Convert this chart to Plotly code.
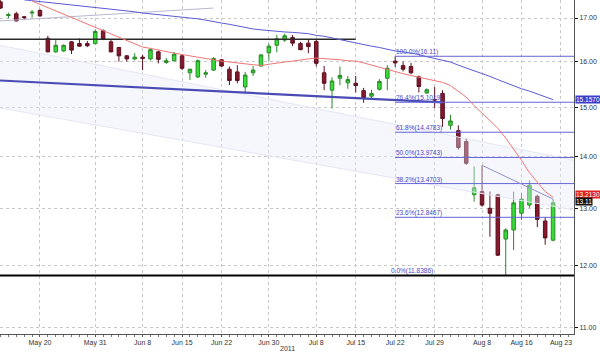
import math
import plotly.graph_objects as go

# ---------------- data ----------------
dates = ["2011-05-13", "2011-05-16", "2011-05-17", "2011-05-18", "2011-05-19", "2011-05-20",
         "2011-05-23", "2011-05-24", "2011-05-25", "2011-05-26", "2011-05-27", "2011-05-30",
         "2011-05-31", "2011-06-01", "2011-06-02", "2011-06-03", "2011-06-06", "2011-06-07",
         "2011-06-08", "2011-06-09", "2011-06-10", "2011-06-13", "2011-06-14", "2011-06-15",
         "2011-06-16", "2011-06-17", "2011-06-20", "2011-06-21", "2011-06-22", "2011-06-23",
         "2011-06-24", "2011-06-27", "2011-06-28", "2011-06-29", "2011-06-30", "2011-07-01",
         "2011-07-04", "2011-07-05", "2011-07-06", "2011-07-07", "2011-07-08", "2011-07-11",
         "2011-07-12", "2011-07-13", "2011-07-14", "2011-07-15", "2011-07-18", "2011-07-19",
         "2011-07-20", "2011-07-21", "2011-07-22", "2011-07-25", "2011-07-26", "2011-07-27",
         "2011-07-28", "2011-07-29", "2011-08-01", "2011-08-02", "2011-08-03", "2011-08-04",
         "2011-08-05", "2011-08-08", "2011-08-09", "2011-08-10", "2011-08-11", "2011-08-12",
         "2011-08-16", "2011-08-17", "2011-08-18", "2011-08-19", "2011-08-22"]

opens = [17.39, 17.06, 17.10, 17.03, 17.12, 17.18,
         16.52, 16.21, 16.23, 16.44, 16.40, 16.40,
         16.40, 16.70, 16.44, 16.31, 16.12, 16.05,
         16.09, 16.05, 16.21, 15.97, 16.01, 16.12,
         15.74, 15.65, 15.71, 15.80, 16.03, 15.82,
         15.76, 15.43, 15.74, 15.89, 16.19, 16.36,
         16.48, 16.54, 16.40, 16.41, 16.45, 15.74,
         15.36, 15.62, 15.52, 15.51, 15.35, 15.23,
         15.38, 15.62, 16.00, 15.90, 15.88, 15.65,
         15.30, 15.16, 15.29, 14.62, 14.51, 14.29,
         13.26, 13.32, 13.01, 13.26, 12.46, 12.62,
         12.92, 13.07, 13.23, 12.78, 12.44]
highs = [17.43, 17.13, 17.15, 17.05, 17.19, 17.22,
         16.58, 16.48, 16.38, 16.46, 16.52, 16.46,
         16.73, 16.73, 16.48, 16.32, 16.14, 16.18,
         16.14, 16.29, 16.24, 16.07, 16.21, 16.14,
         15.83, 16.04, 15.80, 16.09, 16.05, 15.88,
         15.91, 15.76, 15.89, 16.16, 16.40, 16.60,
         16.63, 16.60, 16.44, 16.50, 16.50, 15.89,
         15.64, 15.88, 15.67, 15.67, 15.41, 15.37,
         15.60, 15.91, 16.11, 15.99, 15.96, 15.68,
         15.40, 15.43, 15.36, 14.84, 14.62, 14.36,
         13.80, 13.82, 13.32, 13.28, 12.65, 13.32,
         13.29, 13.53, 13.26, 12.85, 13.18]
lows = [17.22, 16.99, 16.92, 16.95, 17.01, 17.03,
        16.20, 16.19, 16.21, 16.16, 16.33, 16.32,
        16.38, 16.48, 16.20, 15.99, 15.99, 16.02,
        15.80, 16.02, 15.95, 15.94, 15.99, 15.80,
        15.58, 15.62, 15.63, 15.78, 15.88, 15.47,
        15.51, 15.29, 15.67, 15.88, 16.01, 16.20,
        16.44, 16.34, 16.25, 16.18, 15.88, 15.36,
        14.97, 15.47, 15.39, 15.31, 15.09, 15.16,
        15.35, 15.36, 15.87, 15.77, 15.71, 15.31,
        15.28, 14.98, 14.59, 14.53, 14.13, 13.83,
        13.13, 13.04, 12.50, 12.17, 11.8386, 12.27,
        12.80, 13.02, 12.67, 12.36, 12.42]
closes = [17.24, 17.08, 16.93, 17.01, 17.14, 17.05,
          16.21, 16.36, 16.36, 16.25, 16.34, 16.35,
          16.68, 16.50, 16.21, 16.12, 16.05, 16.09,
          16.06, 16.26, 16.04, 16.01, 16.16, 15.84,
          15.82, 16.01, 15.74, 16.06, 15.89, 15.57,
          15.57, 15.69, 15.80, 16.14, 16.34, 16.51,
          16.58, 16.41, 16.26, 16.33, 15.95, 15.51,
          15.56, 15.68, 15.59, 15.46, 15.19, 15.29,
          15.55, 15.84, 15.96, 15.82, 15.74, 15.44,
          15.37, 15.15, 14.76, 14.71, 14.17, 13.86,
          13.39, 13.07, 12.92, 12.18, 12.62, 13.11,
          13.18, 13.44, 12.81, 12.48, 13.11]

ma_red = [None, None, None, 17.60, 17.41, 17.33,
          17.25, 17.16, 17.08, 17.00, 16.92, 16.85,
          16.77, 16.69, 16.62, 16.54, 16.47, 16.39,
          16.32, 16.29, 16.25, 16.22, 16.18, 16.15,
          16.12, 16.08, 16.05, 16.03, 16.00, 15.98,
          15.96, 15.94, 15.92, 15.90, 15.93, 15.96,
          15.98, 16.00, 16.03, 16.05, 16.07, 16.06,
          16.05, 16.03, 16.01, 16.00, 15.96, 15.91,
          15.86, 15.81, 15.76, 15.72, 15.68, 15.64,
          15.60, 15.57, 15.53, 15.46, 15.34, 15.21,
          15.03, 14.87, 14.71, 14.56, 14.36, 14.14,
          13.92, 13.68, 13.49, 13.32, 13.213]
ma_blue = [None, None, None, 17.44, 17.42, 17.39,
           17.37, 17.35, 17.33, 17.31, 17.29, 17.27,
           17.25, 17.23, 17.21, 17.19, 17.17, 17.15,
           17.12, 17.10, 17.08, 17.07, 17.04, 17.02,
           17.00, 16.98, 16.95, 16.91, 16.88, 16.85,
           16.81, 16.78, 16.74, 16.72, 16.70, 16.69,
           16.67, 16.66, 16.64, 16.63, 16.59, 16.57,
           16.53, 16.49, 16.45, 16.41, 16.38, 16.34,
           16.31, 16.27, 16.23, 16.21, 16.18, 16.15,
           16.10, 16.06, 16.02, 15.98, 15.91, 15.85,
           15.78, 15.73, 15.66, 15.59, 15.52, 15.45,
           15.39, 15.34, 15.28, 15.22, 15.157]

fib_levels = [16.11, 15.1019, 14.4783, 13.9743, 13.4703, 12.8467]
fib_labels = ["100.0%(16.11)", "76.4%(15.1019)", "61.8%(14.4783)", "50.0%(13.9743)",
              "38.2%(13.4703)", "23.6%(12.8467)"]
fib_zero = 11.8386
fib_zero_label = "0.0%(11.8386)"
fib_start = "2011-07-22"

resistance = 16.50
resistance_end = "2011-07-15"
trend_thick = [15.57, 15.10]
trend_thick_end = "2011-08-01"
trend_gray = [16.93, 17.24]
trend_gray_end = "2011-06-21"
trend_thin_dates = ["2011-08-08", "2011-08-22"]
trend_thin = [13.82, 13.18]
band_upper = [16.36, 13.92]
band_lower = [14.98, 12.98]

tick_dates = ["2011-05-20", "2011-05-31", "2011-06-08", "2011-06-15", "2011-06-22", "2011-06-30",
              "2011-07-08", "2011-07-15", "2011-07-22", "2011-07-29", "2011-08-08", "2011-08-16",
              "2011-08-23"]
tick_labels = ["May 20", "May 31", "Jun 8", "Jun 15", "Jun 22", "Jun 30", "Jul 8", "Jul 15",
               "Jul 22", "Jul 29", "Aug 8", "Aug 16", "Aug 23"]
y_ticks = [11, 12, 13, 14, 15, 16, 17]
holidays = ["2011-08-15"]

x_left = "2011-05-13 10:30"
x_right = "2011-08-25 03:36"


def noon(d):
    return d + " 12:00"


xs = [noon(d) for d in dates]

fig = go.Figure()

# shaded channel
fig.add_trace(go.Scatter(x=[x_left, x_right], y=band_upper, mode="lines",
                         line=dict(color="#e3e7f4", width=1), hoverinfo="skip"))
fig.add_trace(go.Scatter(x=[x_left, x_right], y=band_lower, mode="lines",
                         line=dict(color="#e3e7f4", width=1), fill="tonexty",
                         fillcolor="rgba(228,234,249,0.38)", hoverinfo="skip"))

# trend / support lines
fig.add_trace(go.Scatter(x=[x_left, noon(trend_gray_end)], y=trend_gray, mode="lines",
                         line=dict(color="#b8b8d0", width=1)))
fig.add_trace(go.Scatter(x=[x_left, noon(resistance_end)], y=[resistance, resistance], mode="lines",
                         line=dict(color="#2a2a2a", width=1.5)))
fig.add_trace(go.Scatter(x=[x_left, noon(trend_thick_end)], y=trend_thick, mode="lines",
                         line=dict(color="#4b4bb5", width=2.2)))
fig.add_trace(go.Scatter(x=[x_left, x_right], y=[fib_zero, fib_zero], mode="lines",
                         line=dict(color="#000000", width=2)))
for lv in fib_levels:
    fig.add_trace(go.Scatter(x=[noon(fib_start), x_right], y=[lv, lv], mode="lines",
                             line=dict(color="#6464d8", width=1)))
fig.add_trace(go.Scatter(x=[noon(d) for d in trend_thin_dates], y=trend_thin, mode="lines",
                         line=dict(color="#9090cc", width=1)))

# moving averages
fig.add_trace(go.Scatter(x=xs, y=ma_blue, mode="lines", line=dict(color="#5a5ad4", width=1)))
fig.add_trace(go.Scatter(x=xs, y=ma_red, mode="lines", line=dict(color="#f07575", width=1)))

# candles
fig.add_trace(go.Candlestick(
    x=xs, open=opens, high=highs, low=lows, close=closes,
    increasing=dict(line=dict(color="#2b8a2b", width=1), fillcolor="#35dd35"),
    decreasing=dict(line=dict(color="#5c1020", width=1), fillcolor="#86192b"),
    whiskerwidth=0, hoverinfo="skip"))

annotations = []
for lv, lab in zip(fib_levels, fib_labels):
    annotations.append(dict(x=noon(fib_start), y=math.log10(lv), xref="x", yref="y",
                            text=lab, showarrow=False, xanchor="left", yanchor="bottom",
                            xshift=-1, yshift=-2,
                            font=dict(family="Liberation Sans", size=6.5, color="#4848c8")))
annotations.append(dict(x=noon(fib_start), y=math.log10(fib_zero), xref="x", yref="y",
                        text=fib_zero_label, showarrow=False, xanchor="left", yanchor="bottom",
                        xshift=-6, yshift=-2,
                        font=dict(family="Liberation Sans", size=6.5, color="#4848c8")))

box_font = dict(family="Liberation Sans", size=6.5, color="#ffffff")
annotations.append(dict(x=1, y=math.log10(ma_blue[-1]), xref="paper", yref="y",
                        text=f"{ma_blue[-1]:.4f}", showarrow=False, xanchor="left", yanchor="middle",
                        xshift=1, bgcolor="#3c3cc8", borderpad=0, font=box_font))
annotations.append(dict(x=1, y=math.log10(ma_red[-1]), xref="paper", yref="y",
                        text=f"{ma_red[-1]:.4f}", showarrow=False, xanchor="left", yanchor="middle",
                        xshift=1, yshift=3, bgcolor="#dd2222", borderpad=0, font=box_font))
annotations.append(dict(x=1, y=math.log10(closes[-1]), xref="paper", yref="y",
                        text=f"{closes[-1]:.2f}", showarrow=False, xanchor="left", yanchor="middle",
                        xshift=1, yshift=1, bgcolor="#111111", borderpad=0, font=box_font))
annotations.append(dict(x=0.5, y=-0.042, xref="paper", yref="paper", text="2011",
                        showarrow=False, xanchor="center", yanchor="middle",
                        font=dict(family="Liberation Sans", size=7, color="#333333")))

fig.update_layout(
    width=600, height=351,
    margin=dict(l=0, r=26, t=0, b=17, pad=0),
    paper_bgcolor="white", plot_bgcolor="white",
    showlegend=False,
    boxgap=0.36,
    annotations=annotations,
    xaxis=dict(
        type="date",
        range=[x_left, x_right],
        rangebreaks=[dict(bounds=["sat", "mon"]), dict(values=holidays)],
        rangeslider=dict(visible=False),
        tickvals=[noon(d) for d in tick_dates],
        ticktext=tick_labels,
        ticks="outside", ticklen=2, tickcolor="#555555",
        tickfont=dict(family="Liberation Sans", size=7, color="#333333"),
        showgrid=True, gridcolor="#c8c8c8", griddash="dot", gridwidth=1,
        showline=True, linecolor="#555555", linewidth=1,
        minor=dict(ticks="outside", ticklen=2, tickcolor="#777777",
                   dtick=86400000, tick0=noon(dates[0]), showgrid=False),
        zeroline=False, automargin=False, fixedrange=True,
    ),
    yaxis=dict(
        type="log",
        range=[math.log10(10.903), math.log10(17.436)],
        side="right",
        tickvals=y_ticks, tickformat=".2f",
        ticks="outside", ticklen=3, tickcolor="#111111",
        tickfont=dict(family="Liberation Sans", size=7, color="#333333"),
        showgrid=True, gridcolor="#c8c8c8", griddash="dot", gridwidth=1,
        showline=True, linecolor="#555555", linewidth=1,
        zeroline=False, automargin=False, fixedrange=True,
    ),
)

fig.write_html("out.html")
